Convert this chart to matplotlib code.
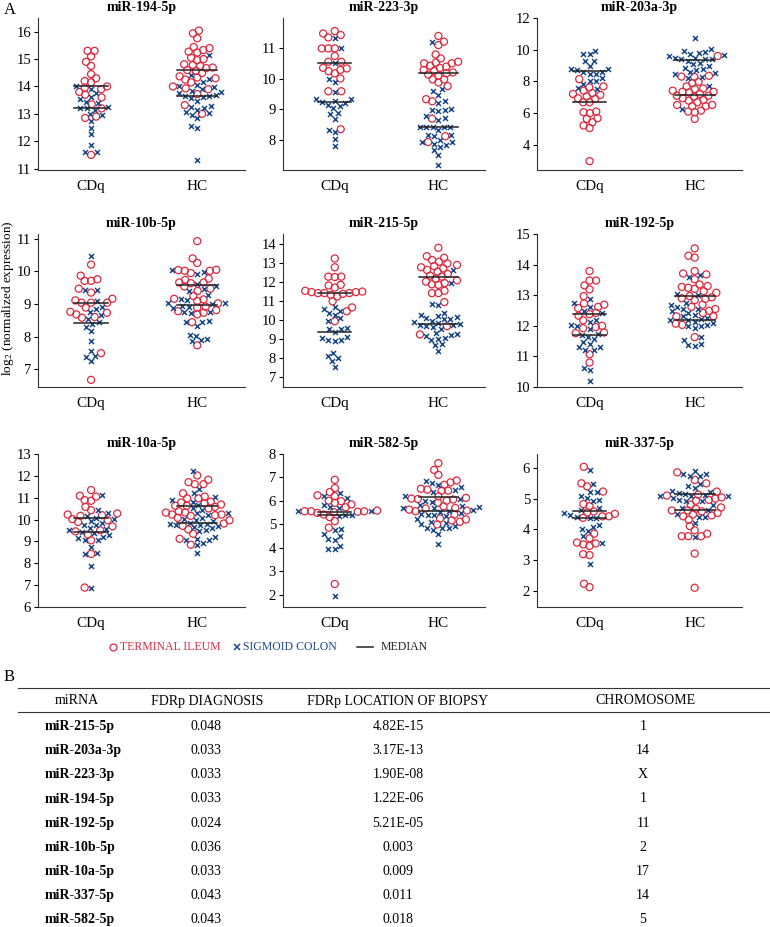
import numpy as np
import matplotlib
matplotlib.use("Agg")
import matplotlib.pyplot as plt
from matplotlib.lines import Line2D

plt.rcParams["font.family"] = ["Liberation Serif", "DejaVu Serif"]
plt.rcParams["mathtext.fontset"] = "stix"

RED = "#e0283c"
BLUE = "#1c4a8c"

groups = ["CDq", "HC"]

# ---- data: values per group / tissue (TI = terminal ileum, SC = sigmoid colon)
mir194_cdq_ti = [15.3, 15.3, 15.1, 14.9, 14.75, 14.45, 14.3, 14.2, 14.15, 14.0, 13.95, 13.9, 13.8, 13.7, 13.6, 13.35, 13.2, 12.9, 12.85, 11.5]
mir194_cdq_sc = [14.0, 13.9, 13.75, 13.6, 13.55, 13.45, 13.4, 13.25, 13.2, 13.2, 13.15, 13.0, 12.95, 12.75, 12.5, 12.25, 11.85, 11.6, 11.6]
mir194_hc_ti = [16.04, 15.94, 15.76, 15.44, 15.4, 15.33, 15.27, 15.24, 15.05, 15.0, 14.96, 14.81, 14.78, 14.75, 14.69, 14.67, 14.6, 14.57, 14.49, 14.37, 14.33, 14.3, 14.25, 14.15, 14.0, 13.93, 13.9, 13.72, 13.32, 13.0]
mir194_hc_sc = [15.14, 14.41, 14.27, 14.17, 14.07, 14.0, 13.97, 13.89, 13.85, 13.8, 13.75, 13.69, 13.66, 13.64, 13.6, 13.58, 13.48, 13.3, 13.24, 13.22, 13.14, 13.08, 13.02, 12.97, 12.84, 12.54, 12.48, 11.33]
mir194_med = [14.0, 13.2, 14.6, 13.64]

mir223_cdq_ti = [11.57, 11.49, 11.44, 11.36, 11.0, 11.0, 11.0, 10.75, 10.56, 10.56, 10.36, 10.34, 10.29, 10.25, 10.18, 10.01, 9.59, 9.59, 8.34]
mir223_cdq_sc = [11.35, 11.0, 10.53, 9.99, 9.9, 9.57, 9.35, 9.33, 9.26, 9.24, 9.22, 9.15, 9.11, 9.04, 8.88, 8.84, 8.69, 8.33, 8.25, 8.03, 7.78]
mir223_hc_ti = [11.41, 11.22, 11.11, 10.8, 10.67, 10.56, 10.53, 10.51, 10.51, 10.43, 10.4, 10.36, 10.29, 10.26, 10.21, 10.18, 10.14, 10.1, 9.98, 9.98, 9.88, 9.76, 9.33, 9.26, 8.69, 8.11, 7.92]
mir223_hc_sc = [11.2, 9.66, 9.59, 9.48, 9.26, 9.19, 9.02, 8.99, 8.97, 8.93, 8.77, 8.71, 8.64, 8.42, 8.42, 8.42, 8.42, 8.42, 8.31, 8.16, 8.14, 8.11, 8.0, 7.92, 7.92, 7.87, 7.81, 7.76, 7.65, 7.48, 7.18]
mir223_med = [10.53, 9.23, 10.2, 8.41]

mir203_cdq_ti = [8.14, 7.68, 7.62, 7.41, 7.26, 7.2, 7.14, 7.05, 6.93, 6.89, 6.68, 6.68, 6.09, 6.05, 5.99, 5.67, 5.63, 5.42, 5.21, 5.05, 2.96]
mir203_cdq_sc = [9.91, 9.7, 9.7, 9.29, 9.29, 8.97, 8.76, 8.76, 8.72, 8.6, 8.56, 8.45, 8.45, 8.18, 8.03, 8.03, 7.82, 7.55, 7.51]
mir203_hc_ti = [9.6, 8.35, 8.3, 8.28, 7.97, 7.89, 7.68, 7.55, 7.51, 7.41, 7.34, 7.34, 7.3, 7.2, 7.09, 7.09, 7.03, 6.93, 6.82, 6.78, 6.68, 6.51, 6.51, 6.43, 6.43, 6.15, 6.09, 6.05, 5.63]
mir203_hc_sc = [10.75, 10.02, 9.91, 9.85, 9.81, 9.75, 9.66, 9.6, 9.49, 9.49, 9.43, 9.39, 9.39, 9.29, 9.18, 9.08, 8.97, 8.87, 8.76, 8.72, 8.6, 8.51, 8.45, 8.3, 8.18, 7.68, 6.26]
mir203_med = [6.7, 8.64, 7.16, 9.33]

mir10b_cdq_ti = [10.21, 9.87, 9.76, 9.71, 9.71, 9.47, 9.35, 9.16, 9.11, 9.04, 9.04, 9.04, 8.89, 8.76, 8.73, 8.68, 8.6, 8.58, 7.49, 6.67]
mir10b_cdq_sc = [10.48, 9.43, 9.43, 9.09, 8.92, 8.86, 8.75, 8.65, 8.55, 8.44, 8.39, 8.3, 8.16, 7.86, 7.55, 7.39, 7.37, 7.24]
mir10b_hc_ti = [10.93, 10.4, 10.26, 10.05, 10.04, 10.02, 10.02, 9.95, 9.78, 9.74, 9.66, 9.66, 9.64, 9.54, 9.47, 9.4, 9.25, 9.16, 9.14, 9.09, 9.02, 8.92, 8.89, 8.81, 8.78, 8.73, 8.68, 8.44, 7.73]
mir10b_hc_sc = [10.05, 9.97, 9.92, 9.61, 9.54, 9.45, 9.4, 9.27, 9.16, 9.11, 9.04, 9.04, 8.99, 8.94, 8.92, 8.89, 8.75, 8.75, 8.73, 8.47, 8.44, 8.44, 8.32, 8.06, 8.03, 7.93, 7.89, 7.86]
mir10b_med = [9.04, 8.42, 9.59, 8.96]

mir215_cdq_ti = [13.22, 12.76, 12.27, 12.25, 12.27, 11.84, 11.81, 11.7, 11.53, 11.49, 11.46, 11.46, 11.41, 11.41, 11.41, 11.37, 11.32, 11.23, 10.98, 10.66, 10.46, 9.94]
mir215_cdq_sc = [10.66, 10.6, 10.46, 10.37, 10.28, 10.11, 9.97, 9.59, 9.51, 9.54, 9.38, 9.11, 9.04, 8.95, 8.9, 8.95, 8.3, 8.12, 8.04, 7.86, 7.55]
mir215_hc_ti = [13.78, 13.34, 13.26, 13.14, 13.05, 12.96, 12.88, 12.82, 12.76, 12.7, 12.62, 12.53, 12.41, 12.32, 12.27, 12.15, 12.08, 12.01, 11.93, 11.87, 11.84, 11.53, 11.41, 11.41, 10.94, 9.68, 9.25]
mir215_hc_sc = [12.62, 11.93, 10.8, 10.84, 10.37, 10.28, 10.2, 10.15, 10.11, 10.08, 10.03, 9.97, 9.9, 9.85, 9.8, 9.73, 9.73, 9.68, 9.63, 9.51, 9.33, 9.25, 9.2, 9.16, 9.07, 9.02, 8.94, 8.73, 8.68, 8.38]
mir215_med = [11.44, 9.4, 12.25, 9.8]

mir192_cdq_ti = [13.79, 13.48, 13.48, 13.32, 13.19, 12.97, 12.73, 12.69, 12.58, 12.62, 12.42, 12.38, 12.33, 12.18, 12.0, 11.96, 11.92, 11.78, 11.76, 11.07, 10.8]
mir192_cdq_sc = [12.88, 12.73, 12.62, 12.47, 12.42, 12.18, 12.14, 12.03, 12.0, 11.89, 11.74, 11.7, 11.63, 11.56, 11.48, 11.41, 11.3, 11.32, 11.21, 11.21, 10.63, 10.55, 10.19]
mir192_hc_ti = [14.53, 14.23, 14.29, 13.79, 13.71, 13.68, 13.52, 13.35, 13.3, 13.27, 13.21, 13.24, 13.13, 13.08, 12.97, 12.93, 12.9, 12.88, 12.84, 12.69, 12.62, 12.55, 12.49, 12.42, 12.31, 12.31, 12.07, 12.03, 11.63]
mir192_hc_sc = [13.6, 13.65, 13.05, 13.02, 12.75, 12.69, 12.62, 12.55, 12.55, 12.47, 12.42, 12.36, 12.31, 12.25, 12.22, 12.2, 12.18, 12.14, 12.09, 12.03, 11.98, 11.98, 11.92, 11.65, 11.54, 11.41, 11.37, 11.35]
mir192_med = [12.38, 11.7, 12.99, 12.2]

mir10a_cdq_ti = [11.35, 11.09, 11.05, 10.89, 10.86, 10.58, 10.43, 10.28, 10.2, 10.17, 10.23, 10.02, 9.97, 9.89, 9.69, 9.51, 9.46, 9.31, 9.05, 8.43, 6.89]
mir10a_cdq_sc = [11.12, 10.43, 10.28, 10.17, 10.05, 10.02, 9.92, 9.86, 9.74, 9.74, 9.62, 9.58, 9.51, 9.43, 9.4, 9.28, 9.2, 9.15, 9.05, 9.05, 8.74, 8.48, 8.43, 7.89, 6.85]
mir10a_hc_ti = [12.02, 11.82, 11.62, 11.62, 11.71, 11.2, 11.05, 10.97, 10.97, 10.82, 10.78, 10.74, 10.69, 10.63, 10.63, 10.58, 10.51, 10.38, 10.32, 10.32, 10.23, 10.23, 10.2, 10.17, 10.08, 9.97, 9.82, 9.71, 9.55, 9.35, 9.12, 8.85]
mir10a_hc_sc = [12.23, 11.4, 11.2, 11.05, 10.89, 10.82, 10.66, 10.51, 10.43, 10.32, 10.28, 10.2, 10.08, 10.02, 9.92, 9.97, 9.86, 9.82, 9.82, 9.77, 9.77, 9.71, 9.66, 9.62, 9.51, 9.46, 9.2, 9.12, 9.05, 9.05, 8.94, 8.82, 8.48]
mir10a_med = [10.08, 9.43, 10.63, 9.86]

mir582_cdq_ti = [6.9, 6.55, 6.38, 6.24, 6.2, 6.01, 5.99, 5.92, 5.85, 5.73, 5.59, 5.56, 5.56, 5.56, 5.54, 5.52, 5.49, 5.42, 5.31, 5.14, 4.86, 2.46]
mir582_cdq_sc = [6.34, 6.2, 6.13, 5.82, 5.73, 5.68, 5.59, 5.56, 5.42, 5.42, 5.35, 4.79, 4.75, 4.58, 4.51, 4.37, 4.32, 4.08, 3.94, 3.94, 1.97]
mir582_hc_ti = [7.61, 7.32, 7.11, 6.87, 6.79, 6.69, 6.52, 6.48, 6.44, 6.44, 6.2, 6.13, 6.1, 6.08, 6.06, 6.01, 5.92, 5.77, 5.7, 5.68, 5.63, 5.59, 5.56, 5.42, 5.25, 5.21, 5.17, 5.11, 5.0]
mir582_hc_sc = [6.86, 6.76, 6.66, 6.58, 6.48, 6.38, 6.2, 6.1, 6.01, 5.96, 5.82, 5.77, 5.73, 5.68, 5.68, 5.63, 5.59, 5.54, 5.49, 5.45, 5.42, 5.39, 5.35, 5.21, 5.11, 5.07, 5.0, 4.93, 4.86, 4.83, 4.83, 4.75, 4.61, 4.15]
mir582_med = [5.54, 5.39, 6.17, 5.56]

mir337_cdq_ti = [6.05, 5.51, 5.41, 5.24, 4.83, 4.76, 4.59, 4.56, 4.51, 4.43, 4.43, 4.38, 3.86, 3.71, 3.57, 3.54, 3.51, 3.46, 3.19, 3.16, 2.22, 2.11]
mir337_cdq_sc = [5.95, 5.48, 5.24, 5.22, 5.11, 5.03, 4.97, 4.94, 4.7, 4.62, 4.54, 4.46, 4.4, 4.38, 4.36, 4.16, 4.08, 4.03, 3.95, 3.78, 3.57, 2.86]
mir337_hc_ti = [5.87, 5.62, 5.51, 5.24, 5.14, 5.11, 5.05, 5.01, 4.97, 4.94, 4.81, 4.72, 4.68, 4.62, 4.62, 4.59, 4.54, 4.49, 4.46, 4.43, 4.32, 4.11, 3.97, 3.86, 3.78, 3.78, 3.78, 3.21, 2.09]
mir337_hc_sc = [5.91, 5.81, 5.81, 5.76, 5.76, 5.48, 5.41, 5.35, 5.26, 5.24, 5.19, 5.16, 5.14, 5.11, 5.11, 5.08, 5.03, 4.97, 4.94, 4.94, 4.79, 4.7, 4.65, 4.49, 4.4, 4.4, 4.22, 3.75]
mir337_med = [4.59, 4.38, 4.62, 5.16]

# ---- table B
tbl_mirna = ["miR-215-5p", "miR-203a-3p", "miR-223-3p", "miR-194-5p", "miR-192-5p",
             "miR-10b-5p", "miR-10a-5p", "miR-337-5p", "miR-582-5p"]
tbl_fdr_diag = ["0.048", "0.033", "0.033", "0.033", "0.024", "0.036", "0.033", "0.043", "0.043"]
tbl_fdr_loc = ["4.82E-15", "3.17E-13", "1.90E-08", "1.22E-06", "5.21E-05", "0.003", "0.009", "0.011", "0.018"]
tbl_chrom = ["1", "14", "X", "1", "11", "2", "17", "14", "5"]

panels = [
    ("miR-194-5p", mir194_cdq_ti, mir194_cdq_sc, mir194_hc_ti, mir194_hc_sc, mir194_med, (10.95, 16.5), range(11, 17)),
    ("miR-223-3p", mir223_cdq_ti, mir223_cdq_sc, mir223_hc_ti, mir223_hc_sc, mir223_med, (7.0, 12.0), range(8, 12)),
    ("miR-203a-3p", mir203_cdq_ti, mir203_cdq_sc, mir203_hc_ti, mir203_hc_sc, mir203_med, (2.4, 12.0), range(4, 13, 2)),
    ("miR-10b-5p", mir10b_cdq_ti, mir10b_cdq_sc, mir10b_hc_ti, mir10b_hc_sc, mir10b_med, (6.45, 11.15), range(7, 12)),
    ("miR-215-5p", mir215_cdq_ti, mir215_cdq_sc, mir215_hc_ti, mir215_hc_sc, mir215_med, (6.5, 14.5), range(7, 15)),
    ("miR-192-5p", mir192_cdq_ti, mir192_cdq_sc, mir192_hc_ti, mir192_hc_sc, mir192_med, (10.0, 15.0), range(10, 16)),
    ("miR-10a-5p", mir10a_cdq_ti, mir10a_cdq_sc, mir10a_hc_ti, mir10a_hc_sc, mir10a_med, (6.0, 13.0), range(6, 14)),
    ("miR-582-5p", mir582_cdq_ti, mir582_cdq_sc, mir582_hc_ti, mir582_hc_sc, mir582_med, (1.48, 8.0), range(2, 9)),
    ("miR-337-5p", mir337_cdq_ti, mir337_cdq_sc, mir337_hc_ti, mir337_hc_sc, mir337_med, (1.46, 6.47), range(2, 7)),
]

W, H = 770, 927
fig = plt.figure(figsize=(W / 100, H / 100), dpi=100)


def box(x0, x1, y0, y1):
    return [x0 / W, 1 - y1 / H, (x1 - x0) / W, (y1 - y0) / H]


def swarm(ypx, d):
    # simple beeswarm: offsets (px) closest to the centre without overlap
    xs = np.zeros(len(ypx))
    placed = []
    for i in np.argsort(ypx):
        y = ypx[i]
        cands = [0.0]
        for px, py in placed:
            dy = abs(y - py)
            if dy < d:
                dx = np.sqrt(d * d - dy * dy)
                cands += [px - dx, px + dx]
        cands.sort(key=lambda c: (abs(c), c))
        for c in cands:
            if all((c - px) ** 2 + (y - py) ** 2 >= d * d - 1e-6 for px, py in placed):
                xs[i] = c
                break
        placed.append((xs[i], y))
    return xs


cols = [(38, 245), (283, 485), (537, 742)]
rows = [(18, 170), (234, 387), (454, 607)]
XLIM = (-0.5, 1.45)
half = [0.16, 0.19]

for k, (title, c_ti, c_sc, h_ti, h_sc, med, ylim, ticks) in enumerate(panels):
    r, c = divmod(k, 3)
    ax = fig.add_axes(box(cols[c][0], cols[c][1], rows[r][0], rows[r][1]))
    ax.set_xlim(*XLIM)
    ax.set_ylim(*ylim)
    wpx = cols[c][1] - cols[c][0]
    hpx = rows[r][1] - rows[r][0]
    xs_per_px = (XLIM[1] - XLIM[0]) / wpx
    for g, (ti, sc) in enumerate([(c_ti, c_sc), (h_ti, h_sc)]):
        vals = np.array(ti + sc, dtype=float)
        ypx = (vals - ylim[0]) / (ylim[1] - ylim[0]) * hpx
        off = swarm(ypx, 6.5) * xs_per_px
        n = len(ti)
        ax.scatter(g + off[:n], vals[:n], s=26, facecolors="none", edgecolors=RED,
                   linewidths=0.9, zorder=3)
        ax.scatter(g + off[n:], vals[n:], s=13, marker="x", color=BLUE,
                   linewidths=1.1, zorder=4)
        for m in med[2 * g:2 * g + 2]:
            ax.plot([g - half[g], g + half[g]], [m, m], color="#222222", lw=1.1, zorder=5)
    ax.set_title(title, fontsize=10, fontweight="bold", pad=5)
    ax.set_xticks([0, 1])
    ax.set_xticklabels(groups)
    ax.set_yticks(list(ticks))
    ax.tick_params(axis="x", length=0, labelsize=11, pad=7)
    ax.tick_params(axis="y", length=3, width=0.8, labelsize=10.5, pad=2)
    for s in ["top", "right"]:
        ax.spines[s].set_visible(False)
    for s in ["left", "bottom"]:
        ax.spines[s].set_linewidth(0.8)
        ax.spines[s].set_color("#333333")

fig.text(8 / W, 1 - 298 / H, "log$_2$ (normalized expression)", rotation=90,
         ha="center", va="center", fontsize=9.5)
fig.text(4 / W, 1 - 10 / H, "A", fontsize=12, ha="left", va="center")
fig.text(4 / W, 1 - 677 / H, "B", fontsize=12, ha="left", va="center")

# ---- legend
ly = 1 - 647 / H
fig.add_artist(Line2D([113 / W], [ly], marker="o", markersize=5, markerfacecolor="none",
                      markeredgecolor=RED, markeredgewidth=0.9, linestyle="none"))
fig.text(120 / W, ly, "TERMINAL ILEUM", color=RED, fontsize=8.5, ha="left", va="center")
fig.add_artist(Line2D([237 / W], [ly], marker="x", markersize=4.5, color=BLUE,
                      markeredgewidth=1.1, linestyle="none"))
fig.text(243 / W, ly, "SIGMOID COLON", color=BLUE, fontsize=8.5, ha="left", va="center")
fig.add_artist(Line2D([357 / W, 373 / W], [ly, ly], color="#222222", lw=1.1))
fig.text(381 / W, ly, "MEDIAN", color="#222222", fontsize=8.5, ha="left", va="center")

# ---- table
fig.add_artist(Line2D([18 / W, 1.0], [1 - 688 / H] * 2, color="#333333", lw=0.8))
fig.add_artist(Line2D([18 / W, 1.0], [1 - 712 / H] * 2, color="#333333", lw=0.8))
hy = 1 - 701 / H
fs = 10
fig.text(77 / W, hy, "miRNA", ha="center", va="center", fontsize=fs)
fig.text(207 / W, hy, "FDRp DIAGNOSIS", ha="center", va="center", fontsize=fs)
fig.text(398 / W, hy, "FDRp LOCATION OF BIOPSY", ha="center", va="center", fontsize=fs)
fig.text(645 / W, hy, "CHROMOSOME", ha="center", va="center", fontsize=fs)
for i in range(len(tbl_mirna)):
    y = 1 - (726.7 + 24.1 * i) / H
    fig.text(45 / W, y, tbl_mirna[i], ha="left", va="center", fontsize=fs, fontweight="bold")
    fig.text(206 / W, y, tbl_fdr_diag[i], ha="center", va="center", fontsize=fs)
    fig.text(398 / W, y, tbl_fdr_loc[i], ha="center", va="center", fontsize=fs)
    fig.text(643 / W, y, tbl_chrom[i], ha="center", va="center", fontsize=fs)

fig.savefig("out.png", dpi=100)
